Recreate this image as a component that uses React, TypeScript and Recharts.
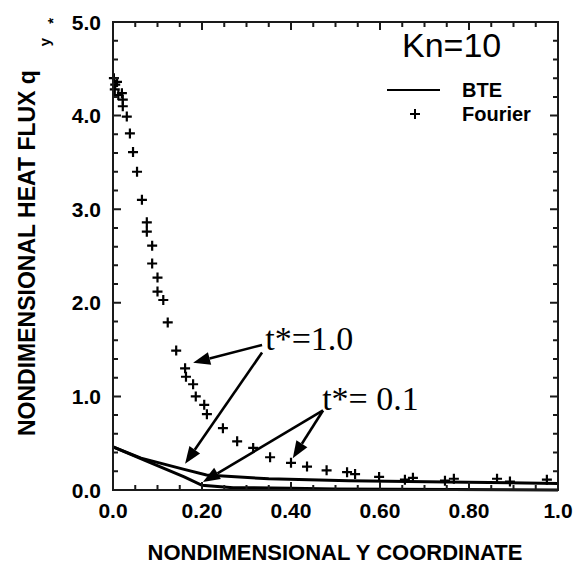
import React from 'react';
import {
  ComposedChart,
  Line,
  Scatter,
  XAxis,
  YAxis,
  ReferenceLine,
  ReferenceDot,
} from 'recharts';

// Fourier solution (crosses)
const fourierX = [0.002, 0.005, 0.009, 0.004, 0.012, 0.02, 0.022, 0.022, 0.031, 0.038, 0.045, 0.054, 0.065, 0.076, 0.076, 0.088, 0.088, 0.1, 0.1, 0.113, 0.123, 0.142, 0.162, 0.164, 0.18, 0.186, 0.205, 0.211, 0.247, 0.279, 0.315, 0.353, 0.4, 0.436, 0.48, 0.526, 0.544, 0.598, 0.656, 0.674, 0.746, 0.766, 0.863, 0.892, 0.975];
const fourierY = [4.4, 4.33, 4.36, 4.28, 4.22, 4.24, 4.17, 4.1, 3.99, 3.81, 3.61, 3.4, 3.1, 2.86, 2.76, 2.61, 2.42, 2.27, 2.12, 2.03, 1.79, 1.49, 1.3, 1.21, 1.13, 1.0, 0.91, 0.81, 0.66, 0.52, 0.45, 0.35, 0.29, 0.25, 0.21, 0.19, 0.17, 0.14, 0.11, 0.13, 0.1, 0.12, 0.12, 0.09, 0.11];

// BTE solution, t* = 1.0 and t* = 0.1
const bteLateX = [0, 0.063, 0.16, 0.21, 0.35, 0.53, 0.75, 1.0];
const bteLateY = [0.46, 0.34, 0.22, 0.16, 0.12, 0.1, 0.085, 0.07];
const bteEarlyX = [0, 0.085, 0.16, 0.2, 0.27, 0.4, 0.5, 1.0];
const bteEarlyY = [0.46, 0.29, 0.14, 0.05, 0.025, 0.02, 0.01, 0.0];

const xTicks = [0, 0.05, 0.1, 0.15, 0.2, 0.25, 0.3, 0.35, 0.4, 0.45, 0.5, 0.55, 0.6, 0.65, 0.7, 0.75, 0.8, 0.85, 0.9, 0.95, 1.0];
const xMajor = [0, 0.2, 0.4, 0.6, 0.8, 1.0];
const xMajorLabels = ['0.0', '0.20', '0.40', '0.60', '0.80', '1.0'];
const yTicks = [0, 0.2, 0.4, 0.6, 0.8, 1, 1.2, 1.4, 1.6, 1.8, 2, 2.2, 2.4, 2.6, 2.8, 3, 3.2, 3.4, 3.6, 3.8, 4, 4.2, 4.4, 4.6, 4.8, 5];
const yMajor = [0, 1, 2, 3, 4, 5];
const yMajorLabels = ['0.0', '1.0', '2.0', '3.0', '4.0', '5.0'];
const xDomain = [0, 1];
const yDomain = [0, 5];

// annotation arrows: [fromX, fromY, toX, toY]
const arrows = [
  [0.335, 1.55, 0.18, 1.36],
  [0.335, 1.47, 0.162, 0.28],
  [0.472, 0.85, 0.202, 0.085],
  [0.472, 0.85, 0.404, 0.34],
];
const notes = [
  { x: 0.342, y: 1.5, text: 't*=1.0' },
  { x: 0.47, y: 0.855, text: 't*= 0.1' },
];

const fourierData = fourierX.map((x, i) => ({ x, y: fourierY[i] }));
const bteLate = bteLateX.map((x, i) => ({ x, y: bteLateY[i] }));
const bteEarly = bteEarlyX.map((x, i) => ({ x, y: bteEarlyY[i] }));

const SANS = '"Liberation Sans", Arial, sans-serif';
const SERIF = '"Liberation Serif", "Times New Roman", serif';
const INK = '#1a1a1a';

// plot box; the chart margins are derived from it
const W = 584;
const H = 566;
const PLOT = { left: 113, top: 22, right: 558, bottom: 490 };
const Y_AXIS_W = 60;
const X_AXIS_H = 30;

const isMajor = (list: number[], v: number) => list.some((m) => Math.abs(m - v) < 1e-6);
const px = (v: number) => PLOT.left + ((v - xDomain[0]) / (xDomain[1] - xDomain[0])) * (PLOT.right - PLOT.left);
const py = (v: number) => PLOT.bottom - ((v - yDomain[0]) / (yDomain[1] - yDomain[0])) * (PLOT.bottom - PLOT.top);

// frame with inward ticks on all four sides
const Frame = () => {
  let d = `M${PLOT.left},${PLOT.top}H${PLOT.right}V${PLOT.bottom}H${PLOT.left}Z`;
  xTicks.forEach((v) => {
    const len = isMajor(xMajor, v) ? 8 : 5;
    const x = px(v);
    d += `M${x},${PLOT.bottom}V${PLOT.bottom - len}M${x},${PLOT.top}V${PLOT.top + len}`;
  });
  yTicks.forEach((v) => {
    const len = isMajor(yMajor, v) ? 8 : 5;
    const y = py(v);
    d += `M${PLOT.left},${y}H${PLOT.left + len}M${PLOT.right},${y}H${PLOT.right - len}`;
  });
  return <path d={d} stroke={INK} strokeWidth={2} fill="none" />;
};

const XLabel = (props: any) => {
  const { x, payload } = props;
  const i = xMajor.findIndex((m) => Math.abs(m - payload.value) < 1e-6);
  if (i < 0) return <g />;
  return (
    <text x={x} y={PLOT.bottom + 28} textAnchor="middle" fontFamily={SANS} fontWeight="bold" fontSize={21} fill="#000">
      {xMajorLabels[i]}
    </text>
  );
};

const YLabel = (props: any) => {
  const { y, payload } = props;
  const i = yMajor.findIndex((m) => Math.abs(m - payload.value) < 1e-6);
  if (i < 0) return <g />;
  return (
    <text x={PLOT.left - 12} y={y + 7.5} textAnchor="end" fontFamily={SANS} fontWeight="bold" fontSize={21} fill="#000">
      {yMajorLabels[i]}
    </text>
  );
};

const Cross = (props: any) => {
  const { cx, cy } = props;
  return <path d={`M${cx - 5},${cy}H${cx + 5}M${cx},${cy - 5}V${cy + 5}`} stroke="#000" strokeWidth={2.2} fill="none" />;
};

const Arrow = (props: any) => {
  const { x1, y1, x2, y2 } = props;
  const ang = Math.atan2(y2 - y1, x2 - x1);
  const L = 17;
  const hw = 6.5;
  const bx = x2 - L * Math.cos(ang);
  const by = y2 - L * Math.sin(ang);
  const ox = -Math.sin(ang) * hw;
  const oy = Math.cos(ang) * hw;
  return (
    <g>
      <line x1={x1} y1={y1} x2={bx} y2={by} stroke="#000" strokeWidth={2.6} />
      <polygon points={`${x2},${y2} ${bx + ox},${by + oy} ${bx - ox},${by - oy}`} fill="#000" />
    </g>
  );
};

const NoteText = (text: string) => (props: any) => (
  <text x={props.cx} y={props.cy} fontFamily={SERIF} fontSize={34} fill="#000">
    {text}
  </text>
);

export default function App() {
  return (
    <div style={{ position: 'absolute', left: 0, top: 0, width: W, height: H, background: '#fff' }}>
      <ComposedChart
        width={W}
        height={H}
        margin={{
          top: PLOT.top,
          right: W - PLOT.right,
          bottom: H - PLOT.bottom - X_AXIS_H,
          left: PLOT.left - Y_AXIS_W,
        }}
      >
        <XAxis
          type="number"
          dataKey="x"
          domain={xDomain}
          ticks={xTicks}
          interval={0}
          height={X_AXIS_H}
          tickLine={false}
          axisLine={false}
          tick={<XLabel />}
        />
        <YAxis
          type="number"
          domain={yDomain}
          ticks={yTicks}
          interval={0}
          width={Y_AXIS_W}
          tickLine={false}
          axisLine={false}
          tick={<YLabel />}
        />
        <Line data={bteLate} dataKey="y" type="linear" stroke="#000" strokeWidth={3} dot={false} isAnimationActive={false} />
        <Line data={bteEarly} dataKey="y" type="linear" stroke="#000" strokeWidth={3} dot={false} isAnimationActive={false} />
        <Scatter data={fourierData} dataKey="y" shape={<Cross />} isAnimationActive={false} />
        {arrows.map((a, i) => (
          <ReferenceLine key={'ar' + i} segment={[{ x: a[0], y: a[1] }, { x: a[2], y: a[3] }]} shape={<Arrow />} />
        ))}
        {notes.map((n, i) => (
          <ReferenceDot key={'nt' + i} x={n.x} y={n.y} r={0} shape={NoteText(n.text)} />
        ))}
      </ComposedChart>
      <svg width={W} height={H} style={{ position: 'absolute', left: 0, top: 0, pointerEvents: 'none' }}>
        <Frame />
        <text x={402} y={57} fontFamily={SANS} fontSize={34} fill="#000">Kn=10</text>
        <line x1={387} x2={440} y1={90} y2={90} stroke="#000" strokeWidth={2} />
        <text x={462} y={97} fontFamily={SANS} fontWeight="bold" fontSize={20} fill="#000">BTE</text>
        <path d="M410,114H420M415,109V119" stroke="#000" strokeWidth={2} />
        <text x={462} y={121} fontFamily={SANS} fontWeight="bold" fontSize={20} fill="#000">Fourier</text>
        <text x={335} y={560} textAnchor="middle" fontFamily={SANS} fontWeight="bold" fontSize={22} fill="#000">
          NONDIMENSIONAL Y COORDINATE
        </text>
        <text
          x={35}
          y={436}
          transform="rotate(-90, 35, 436)"
          fontFamily={SANS}
          fontWeight="bold"
          fontSize={23}
          fill="#000"
        >
          NONDIMENSIONAL HEAT FLUX q
          <tspan dx={24} dy={15} fontSize={15}>y</tspan>
          <tspan dx={14} dy={8} fontSize={15}>*</tspan>
        </text>
      </svg>
    </div>
  );
}
